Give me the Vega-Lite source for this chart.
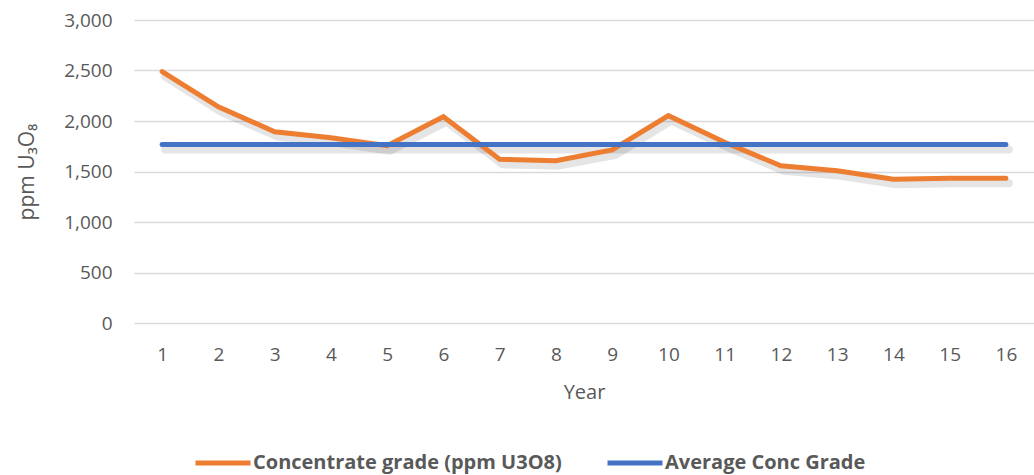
{
  "$schema": "https://vega.github.io/schema/vega-lite/v6.json",
  "width": 900,
  "height": 303,
  "autosize": {"type": "none"},
  "padding": {"left": 134, "top": 20, "right": 0, "bottom": 152},
  "background": "white",
  "config": {
    "font": "Open Sans",
    "view": {"stroke": null},
    "axis": {"labelColor": "#595959", "titleColor": "#595959", "titleFontWeight": "normal"}
  },
  "datasets": {
    "grade": [
      {"year": 1, "series": "Concentrate grade (ppm U3O8)", "ppm": 2490},
      {"year": 2, "series": "Concentrate grade (ppm U3O8)", "ppm": 2141},
      {"year": 3, "series": "Concentrate grade (ppm U3O8)", "ppm": 1894},
      {"year": 4, "series": "Concentrate grade (ppm U3O8)", "ppm": 1835},
      {"year": 5, "series": "Concentrate grade (ppm U3O8)", "ppm": 1755},
      {"year": 6, "series": "Concentrate grade (ppm U3O8)", "ppm": 2043},
      {"year": 7, "series": "Concentrate grade (ppm U3O8)", "ppm": 1621},
      {"year": 8, "series": "Concentrate grade (ppm U3O8)", "ppm": 1607},
      {"year": 9, "series": "Concentrate grade (ppm U3O8)", "ppm": 1713},
      {"year": 10, "series": "Concentrate grade (ppm U3O8)", "ppm": 2053},
      {"year": 11, "series": "Concentrate grade (ppm U3O8)", "ppm": 1790},
      {"year": 12, "series": "Concentrate grade (ppm U3O8)", "ppm": 1557},
      {"year": 13, "series": "Concentrate grade (ppm U3O8)", "ppm": 1508},
      {"year": 14, "series": "Concentrate grade (ppm U3O8)", "ppm": 1423},
      {"year": 15, "series": "Concentrate grade (ppm U3O8)", "ppm": 1432},
      {"year": 16, "series": "Concentrate grade (ppm U3O8)", "ppm": 1432},
      {"year": 1, "series": "Average Conc Grade", "ppm": 1768},
      {"year": 2, "series": "Average Conc Grade", "ppm": 1768},
      {"year": 3, "series": "Average Conc Grade", "ppm": 1768},
      {"year": 4, "series": "Average Conc Grade", "ppm": 1768},
      {"year": 5, "series": "Average Conc Grade", "ppm": 1768},
      {"year": 6, "series": "Average Conc Grade", "ppm": 1768},
      {"year": 7, "series": "Average Conc Grade", "ppm": 1768},
      {"year": 8, "series": "Average Conc Grade", "ppm": 1768},
      {"year": 9, "series": "Average Conc Grade", "ppm": 1768},
      {"year": 10, "series": "Average Conc Grade", "ppm": 1768},
      {"year": 11, "series": "Average Conc Grade", "ppm": 1768},
      {"year": 12, "series": "Average Conc Grade", "ppm": 1768},
      {"year": 13, "series": "Average Conc Grade", "ppm": 1768},
      {"year": 14, "series": "Average Conc Grade", "ppm": 1768},
      {"year": 15, "series": "Average Conc Grade", "ppm": 1768},
      {"year": 16, "series": "Average Conc Grade", "ppm": 1768}
    ]
  },
  "data": {"name": "grade"},
  "encoding": {
    "x": {
      "field": "year",
      "type": "ordinal",
      "scale": {"type": "point", "padding": 0.5},
      "sort": "ascending",
      "axis": {
        "title": "Year",
        "labelAngle": 0,
        "labelFontSize": 19,
        "titleFontSize": 20,
        "labelPadding": 22,
        "titlePadding": 18,
        "domain": false,
        "ticks": false,
        "grid": false
      }
    },
    "y": {
      "field": "ppm",
      "type": "quantitative",
      "scale": {"domain": [0, 3000]},
      "axis": {
        "title": "ppm U₃O₈",
        "format": ",.0f",
        "values": [0, 500, 1000, 1500, 2000, 2500, 3000],
        "labelFontSize": 19,
        "titleFontSize": 21,
        "labelPadding": 22,
        "titlePadding": 26,
        "domain": false,
        "ticks": false,
        "gridColor": "#d9d9d9",
        "gridWidth": 1.3
      }
    },
    "detail": {"field": "series", "type": "nominal"}
  },
  "layer": [
    {
      "mark": {
        "type": "line",
        "color": "#000000",
        "opacity": 0.1,
        "strokeWidth": 8,
        "strokeCap": "round",
        "strokeJoin": "round",
        "xOffset": 3,
        "yOffset": 5
      }
    },
    {
      "mark": {"type": "line", "strokeWidth": 5, "strokeCap": "round", "strokeJoin": "miter"},
      "encoding": {
        "color": {
          "field": "series",
          "type": "nominal",
          "scale": {
            "domain": ["Concentrate grade (ppm U3O8)", "Average Conc Grade"],
            "range": ["#ED7D31", "#4472C4"]
          },
          "legend": {
            "orient": "none",
            "legendX": 59,
            "legendY": 413,
            "direction": "horizontal",
            "title": null,
            "symbolType": "stroke",
            "symbolSize": 3025,
            "symbolStrokeWidth": 5,
            "labelFontSize": 20,
            "labelFontWeight": "bold",
            "labelColor": "#595959",
            "labelOffset": 0,
            "labelLimit": 400,
            "columnPadding": 35
          }
        }
      }
    }
  ]
}
